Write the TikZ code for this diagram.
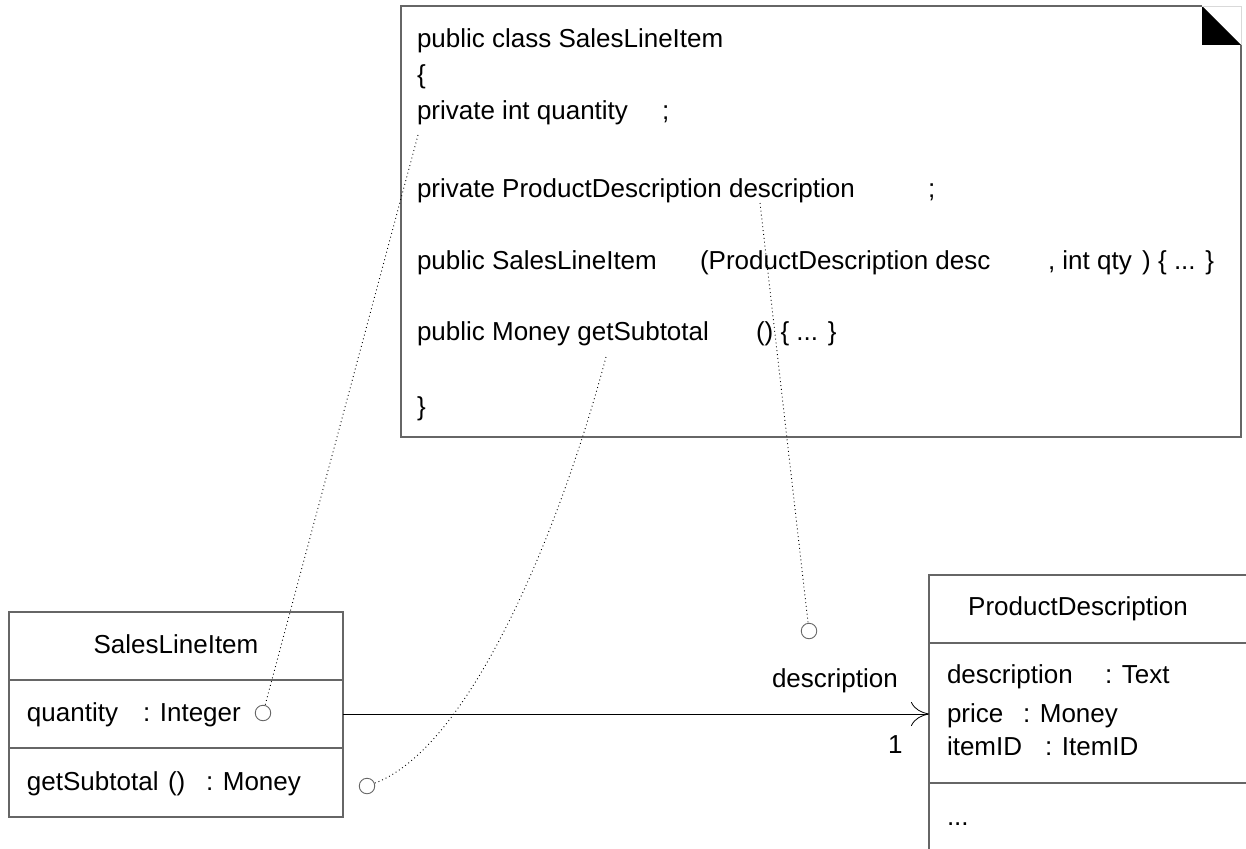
\documentclass[tikz,border=0pt]{standalone}
\usepackage{fontspec}
\setmainfont{Liberation Sans}
\usetikzlibrary{arrows.meta}

\definecolor{boxgray}{gray}{0.4}

\begin{document}
\begin{tikzpicture}[
  x=1pt, y=-1pt,
  every node/.style={inner sep=0pt, outer sep=0pt, font=\fontsize{26}{30}\selectfont},
  txt/.style={anchor=base west},
  compart/.style={draw=boxgray, line width=1.2pt, rectangle, anchor=north west},
  lollipop/.style={circle, draw=boxgray, line width=0.9pt, minimum size=15.5pt},
  dotline/.style={line width=0.9pt, dash pattern=on 0.9pt off 3pt},
]
\useasboundingbox (0,0) rectangle (1246,848);

% ---- code note with folded corner ----
\draw[boxgray, line width=1.2pt] (1202,6) -- (401,6) -- (401,437) -- (1241,437) -- (1241,45);
\fill[black] (1202,6) -- (1202,45) -- (1241,45) -- cycle;
\draw[black!15, line width=0.8pt] (1202,6) -- (1241,6) -- (1241,45);

\node[txt] (c1) at (417,48) {public class SalesLineItem};
\node[txt] (c2) at (417,84) {\{};
\node[txt] (c3a) at (417,120) {private int quantity};
\node[txt] (c3b) at (662,120) {;};
\node[txt] (c4a) at (417,197) {private ProductDescription description};
\node[txt] (c4b) at (928,197) {;};
\node[txt] (c5a) at (417,269) {public SalesLineItem};
\node[txt] (c5b) at (700,269) {(ProductDescription desc};
\node[txt] (c5c) at (1048,269) {, int qty};
\node[anchor=base east] (c5d) at (1214,269) {) \{ ... \}};
\node[txt] (c6a) at (417,340) {public Money getSubtotal};
\node[txt] (c6b) at (756,340) {() \{ ... \}};
\node[txt] (c7) at (417,415) {\}};

\coordinate (qtyref) at (418,135);
\coordinate (descref) at (760,203);
\coordinate (subref) at (606,357);

% ---- class SalesLineItem ----
\node[compart, minimum width=334pt, minimum height=68pt] (slihead) at (9,612) {};
\node[compart, minimum width=334pt, minimum height=68pt] (sliattr) at (9,680) {};
\node[compart, minimum width=334pt, minimum height=69pt] (sliops) at (9,748) {};
\node[anchor=base] (sliname) at (176,653) {SalesLineItem};
\node[txt] (a1) at (27,721) {quantity};
\node[txt] (a1t) at (143,721) {: Integer};
\node[txt] (o1) at (27,790) {getSubtotal};
\node[txt] (o1p) at (168,790) {()};
\node[txt] (o1t) at (206,790) {: Money};

% ---- class ProductDescription ----
\node[compart, minimum width=330pt, minimum height=68pt] (pdhead) at (929,575) {};
\node[compart, minimum width=330pt, minimum height=140pt] (pdattr) at (929,643) {};
\node[compart, minimum width=330pt, minimum height=80pt] (pdops) at (929,783) {};
\node[anchor=base] (pdname) at (1078,615) {ProductDescription};
\node[txt] (p1) at (947,683) {description};
\node[txt] (p1t) at (1105,683) {: Text};
\node[txt] (p2) at (947,722) {price};
\node[txt] (p2t) at (1023,722) {: Money};
\node[txt] (p3) at (947,755) {itemID};
\node[txt] (p3t) at (1045,755) {: ItemID};
\node[txt] (p4) at (947,825) {...};

% ---- association ----
\draw[line width=1pt, -{Computer Modern Rightarrow[length=18pt,width=24pt,line width=0.8pt]}]
  (sliattr.east) -- (sliattr.east -| pdattr.west);
\node[txt] (rolename) at (772,687) {description};
\node[txt] (mult) at (888,753) {1};

% ---- lollipops and their dotted links into the code ----
\node[lollipop] (qtycirc) at (263,713) {};
\node[lollipop] (subcirc) at (367,786) {};
\node[lollipop] (desccirc) at (809,631) {};

\draw[dotline] (qtyref) -- (qtycirc);
\draw[dotline] (descref) -- (desccirc);
\draw[dotline] (subref) .. controls (560,530) and (470,748) .. (subcirc);
\end{tikzpicture}
\end{document}
